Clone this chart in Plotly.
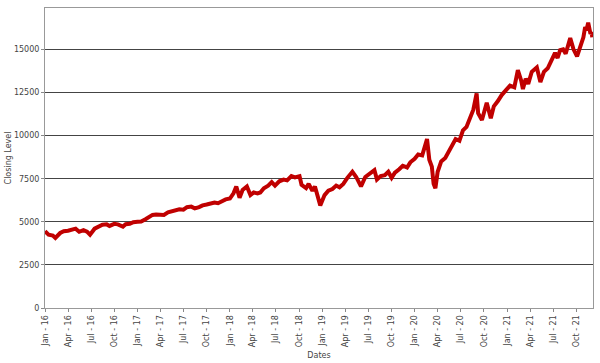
import plotly.graph_objects as go

dates = [
    "2016-01-01", "2016-01-15", "2016-02-01", "2016-02-11", "2016-03-01", "2016-03-15",
    "2016-04-01", "2016-04-15", "2016-05-01", "2016-05-15", "2016-06-01", "2016-06-15",
    "2016-06-27", "2016-07-15", "2016-08-01", "2016-08-15", "2016-09-01", "2016-09-12",
    "2016-10-01", "2016-10-15", "2016-11-04", "2016-11-15", "2016-12-01", "2016-12-15",
    "2017-01-01", "2017-01-15", "2017-02-01", "2017-02-15", "2017-03-01", "2017-03-15",
    "2017-04-01", "2017-04-15", "2017-05-01", "2017-05-15", "2017-06-01", "2017-06-15",
    "2017-07-01", "2017-07-15", "2017-08-01", "2017-08-15", "2017-09-01", "2017-09-15",
    "2017-10-01", "2017-10-15", "2017-11-01", "2017-11-15", "2017-12-01", "2017-12-15",
    "2018-01-01", "2018-01-15", "2018-01-26", "2018-02-08", "2018-02-20", "2018-03-09",
    "2018-03-23", "2018-04-05", "2018-04-20", "2018-05-01", "2018-05-15", "2018-06-01",
    "2018-06-15", "2018-06-28", "2018-07-15", "2018-08-01", "2018-08-15", "2018-09-01",
    "2018-09-15", "2018-10-03", "2018-10-11", "2018-10-29", "2018-11-08", "2018-11-23",
    "2018-12-03", "2018-12-24", "2019-01-10", "2019-01-25", "2019-02-10", "2019-02-25",
    "2019-03-10", "2019-03-25", "2019-04-10", "2019-04-30", "2019-05-15", "2019-06-03",
    "2019-06-20", "2019-07-05", "2019-07-26", "2019-08-05", "2019-08-20", "2019-09-05",
    "2019-09-19", "2019-10-02", "2019-10-15", "2019-11-01", "2019-11-15", "2019-12-02",
    "2019-12-15", "2020-01-01", "2020-01-15", "2020-01-31", "2020-02-10", "2020-02-19",
    "2020-02-28", "2020-03-09", "2020-03-16", "2020-03-23", "2020-04-01", "2020-04-15",
    "2020-05-01", "2020-05-15", "2020-06-01", "2020-06-11", "2020-06-26", "2020-07-10",
    "2020-07-24", "2020-08-05", "2020-08-20", "2020-09-02", "2020-09-08", "2020-09-23",
    "2020-10-12", "2020-10-28", "2020-11-09", "2020-11-25", "2020-12-10", "2020-12-28",
    "2021-01-12", "2021-01-29", "2021-02-12", "2021-02-25", "2021-03-04", "2021-03-15",
    "2021-03-25", "2021-04-08", "2021-04-28", "2021-05-12", "2021-05-26", "2021-06-10",
    "2021-06-25", "2021-07-09", "2021-07-19", "2021-07-29", "2021-08-10", "2021-08-20",
    "2021-09-07", "2021-09-20", "2021-10-04", "2021-10-15", "2021-10-29", "2021-11-05",
    "2021-11-10", "2021-11-17", "2021-11-26", "2021-12-01", "2021-12-03",
]

closing = [
    4450, 4250, 4200, 4060, 4350, 4450,
    4480, 4560, 4600, 4420, 4520, 4430,
    4250, 4600, 4700, 4830, 4850, 4760,
    4880, 4850, 4720, 4860, 4880, 4980,
    5000, 5020, 5150, 5300, 5400, 5420,
    5430, 5400, 5550, 5620, 5700, 5720,
    5700, 5850, 5880, 5780, 5850, 5950,
    6000, 6080, 6120, 6080, 6200, 6300,
    6350, 6650, 7050, 6400, 6850, 7050,
    6550, 6700, 6650, 6700, 6950, 7100,
    7300, 7100, 7350, 7450, 7400, 7650,
    7580, 7650, 7150, 6950, 7200, 6800,
    7050, 5950, 6550, 6800, 6900, 7100,
    7000, 7200, 7550, 7900, 7600, 7050,
    7600, 7750, 8000, 7450, 7650, 7700,
    7900, 7550, 7850, 8050, 8250, 8150,
    8450, 8650, 8900, 8850, 9400, 9800,
    8600, 8200, 7200, 6950, 7900, 8500,
    8700, 9100, 9500, 9800, 9700, 10300,
    10500, 11000, 11500, 12450, 11300, 10900,
    11900, 11000, 11700, 12000, 12350, 12650,
    12900, 12800, 13800, 13200, 12700, 13300,
    13000, 13700, 13950, 13100, 13700, 13900,
    14400, 14800, 14500, 14950, 15000, 14750,
    15650, 15000, 14600, 15100, 15700, 16300,
    16100, 16550, 15900, 16000, 15700,
]

tick_dates = [f"{y}-{m:02d}-01" for y in range(2016, 2022) for m in (1, 4, 7, 10)]
tick_labels = [f"{mon} - {str(y)[2:]}" for y in range(2016, 2022) for mon in ("Jan", "Apr", "Jul", "Oct")]
y_ticks = [0, 2500, 5000, 7500, 10000, 12500, 15000]

font = dict(family="DejaVu Sans, Verdana, sans-serif", size=8, color="#444444")

fig = go.Figure()
fig.add_trace(go.Scatter(
    x=dates, y=closing, mode="lines",
    line=dict(color="#c00000", width=4),
    showlegend=False,
))

fig.update_layout(
    width=600, height=363,
    margin=dict(l=45, r=7, t=8, b=55),
    paper_bgcolor="white", plot_bgcolor="white",
    font=font,
    xaxis=dict(
        range=["2016-01-01", "2021-12-06"],
        tickvals=tick_dates, ticktext=tick_labels, tickangle=-90,
        ticks="outside", ticklen=3, tickcolor="#888888",
        showgrid=False, zeroline=False,
        showline=True, linecolor="#999999", linewidth=1, mirror=True,
        title=dict(text="Dates", font=font, standoff=6),
        tickfont=font, automargin=False,
    ),
    yaxis=dict(
        range=[0, 17400],
        tickvals=y_ticks, ticktext=[str(v) for v in y_ticks],
        ticks="outside", ticklen=3, tickcolor="#888888",
        showgrid=True, gridcolor="#444444", gridwidth=1,
        zeroline=False,
        showline=True, linecolor="#999999", linewidth=1, mirror=True,
        title=dict(text="Closing Level", font=font, standoff=1),
        tickfont=font, automargin=False,
    ),
)

fig.write_html("out.html")
